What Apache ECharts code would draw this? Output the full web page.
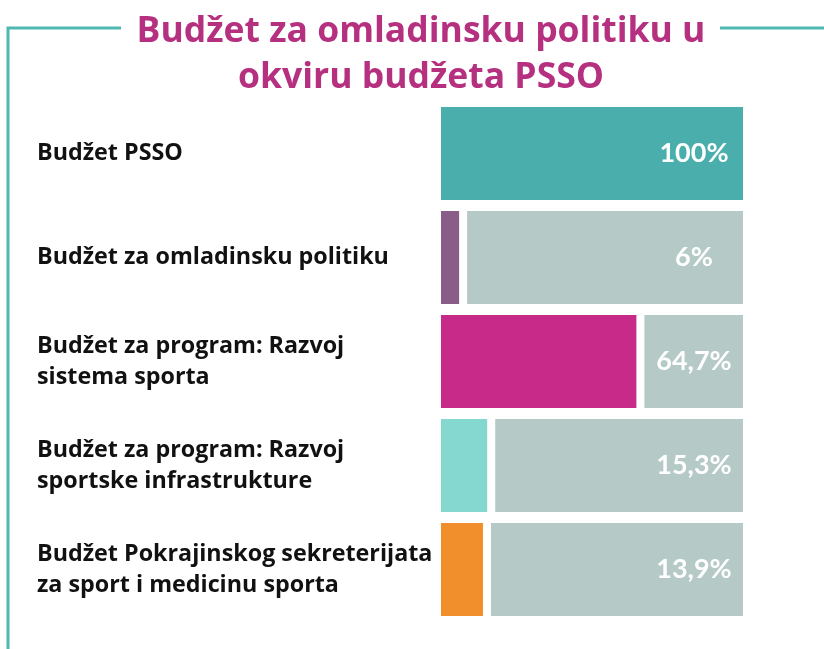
<!DOCTYPE html>
<html>
<head>
<meta charset="utf-8">
<script src="https://cdn.jsdelivr.net/npm/echarts@6/dist/echarts.min.js"></script>
<style>
  html, body { margin: 0; padding: 0; background: #fff; }
  #chart { width: 824px; height: 649px; }
</style>
</head>
<body>
<div id="chart"></div>
<script>
const categories = [
  'Budžet PSSO',
  'Budžet za omladinsku politiku',
  'Budžet za program: Razvoj\nsistema sporta',
  'Budžet za program: Razvoj\nsportske infrastrukture',
  'Budžet Pokrajinskog sekreterijata\nza sport i medicinu sporta'
]
const values = [100, 6, 64.7, 15.3, 13.9]
const barColors = ['#4aafac', '#8a5c88', '#c72a88', '#84d8d0', '#f28f2d']

const gapSize = 2.65 // white gap between the share and the rest (in % units)
const gaps = values.map(v => (v >= 100 ? 0 : gapSize))
const rest = values.map((v, i) => Math.max(0, 100 - v - gaps[i]))

const textFont = '"Open Sans", "Noto Sans", sans-serif'
const numFont = 'Lato, "Noto Sans", sans-serif'

const chart = echarts.init(document.getElementById('chart'))
chart.setOption({
  animation: false,
  title: {
    text: 'Budžet za omladinsku politiku u\nokviru budžeta PSSO',
    left: 421,
    textAlign: 'center',
    top: 9,
    padding: 0,
    textStyle: {
      color: '#b5307f',
      fontFamily: textFont,
      fontWeight: 'bold',
      fontSize: 35.5,
      lineHeight: 46
    }
  },
  graphic: [
    // frame lines round the title
    { type: 'polyline', shape: { points: [[8, 649], [8, 28], [121, 28]] }, style: { stroke: '#4fb8b2', lineWidth: 3, fill: null } },
    { type: 'line', shape: { x1: 720, y1: 28, x2: 824, y2: 28 }, style: { stroke: '#4fb8b2', lineWidth: 3 } }
  ],
  grid: {
    left: 441,
    right: 81,
    top: 101.5,
    bottom: 27.5
  },
  xAxis: {
    type: 'value',
    min: 0,
    max: 100,
    show: false
  },
  yAxis: {
    type: 'category',
    data: categories,
    inverse: true,
    axisLine: { show: false },
    axisTick: { show: false },
    axisLabel: {
      align: 'left',
      margin: 404,
      color: '#111',
      fontFamily: textFont,
      fontWeight: 'bold',
      fontSize: 23.3,
      lineHeight: 31
    }
  },
  series: [
    {
      name: 'udeo',
      type: 'bar',
      stack: 'total',
      barWidth: 93,
      data: values.map((v, i) => ({ value: v, itemStyle: { color: barColors[i] } }))
    },
    {
      name: 'razmak',
      type: 'bar',
      stack: 'total',
      itemStyle: { color: 'transparent' },
      data: gaps
    },
    {
      name: 'ostatak',
      type: 'bar',
      stack: 'total',
      itemStyle: { color: '#b5cac7' },
      data: rest,
      label: {
        show: true,
        position: 'insideRight',
        distance: 49,
        align: 'center',
        color: '#fff',
        fontFamily: numFont,
        fontWeight: 'bold',
        fontSize: 27,
        formatter: p => String(values[p.dataIndex]).replace('.', ',') + '%'
      }
    }
  ]
})
</script>
</body>
</html>
